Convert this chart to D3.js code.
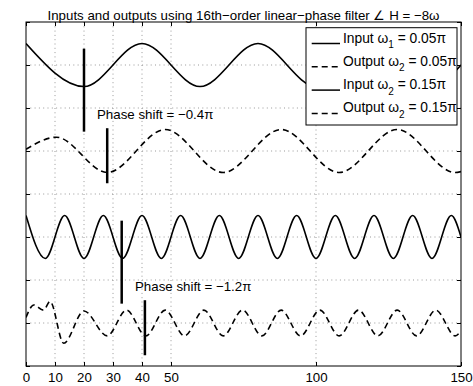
<!DOCTYPE html>
<html>
<head>
<meta charset="utf-8">
<script src="https://cdn.jsdelivr.net/npm/d3@7"></script>
<style>
  body { margin: 0; background: #fff; }
  svg text { font-family: "Liberation Sans", Arial, Helvetica, sans-serif; fill: #000; }
</style>
</head>
<body>
<div id="chart"></div>
<script>
// tick values of the axes (y axis has no labels)
var xTickValues = [0, 10, 20, 30, 40, 50, 100, 150];
var yTickValues = [0, 1, 2, 3, 4, 5, 6, 7, 8];

// vertical offset of each of the four traces
var traceOffsets = [7, 5, 3, 1];

// input w1 = 0.05pi : sample index and value at peaks / troughs
var inLowN = [0, 20, 40, 60, 80, 100, 120, 140, 150];
var inLowV = [0.5, -0.5, 0.5, -0.5, 0.5, -0.5, 0.5, -0.5, 0];

// output w = 0.05pi (start-up transient, then delayed by 8 samples)
var outLowN = [0, 10.5, 28, 48, 68, 88, 108, 128, 148, 150];
var outLowV = [0.04, 0.32, -0.5, 0.5, -0.5, 0.5, -0.5, 0.5, -0.5, -0.48];

// input w2 = 0.15pi
var inHighN = [0, 6.67, 13.33, 20, 26.67, 33.33, 40, 46.67, 53.33, 60, 66.67, 73.33,
               80, 86.67, 93.33, 100, 106.67, 113.33, 120, 126.67, 133.33, 140, 146.67, 150];
var inHighV = [0.5, -0.5, 0.5, -0.5, 0.5, -0.5, 0.5, -0.5, 0.5, -0.5, 0.5, -0.5,
               0.5, -0.5, 0.5, -0.5, 0.5, -0.5, 0.5, -0.5, 0.5, -0.5, 0.5, 0];

// output w2 = 0.15pi
var outHighN = [0, 2.7, 6, 8.3, 13, 20, 28, 34.67, 41.33, 48, 54.67, 61.33, 68, 74.67,
                81.33, 88, 94.67, 101.33, 108, 114.67, 121.33, 128, 134.67, 141.33, 148, 150];
var outHighV = [0.13, 0.42, 0.3, 0.5, -0.47, 0.28, -0.3, 0.3, -0.3, 0.3, -0.3, 0.3, -0.3, 0.3,
                -0.3, 0.3, -0.3, 0.3, -0.3, 0.3, -0.3, 0.3, -0.3, 0.3, -0.3, -0.18];

// phase markers: sample index, top and bottom value
var markerN = [20, 28, 33, 41];
var markerTop = [7.38, 5.53, 3.38, 1.53];
var markerBottom = [5.45, 4.25, 1.45, 0.25];

// legend entries
var legendNames = ["Input \u03c9", "Output \u03c9", "Input \u03c9", "Output \u03c9"];
var legendSubs = ["1", "2", "2", "2"];
var legendFreqs = [" = 0.05\u03c0", " = 0.05\u03c0", " = 0.15\u03c0", " = 0.15\u03c0"];

var titleText = "Inputs and outputs using 16th\u2212order linear\u2212phase filter \u2220 H = \u22128\u03c9";
var shiftLabels = ["Phase shift = \u22120.4\u03c0", "Phase shift = \u22121.2\u03c0"];

// set the dimensions and margins of the graph
var margin = {top: 22, right: 12, bottom: 20, left: 26},
    width = 473 - margin.left - margin.right,
    height = 386 - margin.top - margin.bottom;

var svg = d3.select("#chart")
  .append("svg")
    .attr("width", width + margin.left + margin.right)
    .attr("height", height + margin.top + margin.bottom)
  .append("g")
    .attr("transform", "translate(" + margin.left + "," + margin.top + ")");

var x = d3.scaleLinear().domain([0, 150]).range([0, width]);
var y = d3.scaleLinear().domain([0, 8]).range([height, 0]);

// dotted grid
svg.append("g").selectAll("line")
    .data(xTickValues.filter(function(d) { return d > 0 && d < 150; }))
    .enter().append("line")
      .attr("x1", function(d) { return x(d); })
      .attr("x2", function(d) { return x(d); })
      .attr("y1", 0).attr("y2", height)
      .attr("stroke", "#999").attr("stroke-dasharray", "1,3.3");
svg.append("g").selectAll("line")
    .data(yTickValues.filter(function(d) { return d > 0 && d < 8; }))
    .enter().append("line")
      .attr("y1", function(d) { return y(d); })
      .attr("y2", function(d) { return y(d); })
      .attr("x1", 0).attr("x2", width)
      .attr("stroke", "#999").attr("stroke-dasharray", "1,3.3");

// axes with inward ticks
var xAxis = svg.append("g")
    .attr("transform", "translate(0," + height + ")")
    .call(d3.axisBottom(x).tickValues(xTickValues).tickSize(-4).tickPadding(6.5).tickFormat(d3.format("d")));
svg.append("g").call(d3.axisTop(x).tickValues(xTickValues).tickSize(-4).tickFormat(""));
svg.append("g").call(d3.axisLeft(y).tickValues(yTickValues).tickSize(-4).tickFormat(""));
svg.append("g").attr("transform", "translate(" + width + ",0)")
    .call(d3.axisRight(y).tickValues(yTickValues).tickSize(-4).tickFormat(""));
svg.selectAll(".domain").remove();
svg.selectAll(".tick line").attr("stroke", "#000");
xAxis.selectAll("text").style("font-size", "13.3px").attr("fill", "#000");

// traces
var line = d3.line()
    .x(function(d) { return x(d[0]); })
    .y(function(d) { return y(d[1]); })
    .curve(d3.curveMonotoneX);

var traces = [
  {n: inLowN, v: inLowV, dash: null},
  {n: outLowN, v: outLowV, dash: "6,4"},
  {n: inHighN, v: inHighV, dash: null},
  {n: outHighN, v: outHighV, dash: "6,4"}
];

svg.append("clipPath").attr("id", "plotArea")
  .append("rect").attr("width", width).attr("height", height);

svg.append("g").attr("clip-path", "url(#plotArea)")
  .selectAll("path")
  .data(traces)
  .enter().append("path")
    .attr("d", function(t, i) {
      return line(t.n.map(function(n, k) { return [n, t.v[k] + traceOffsets[i]]; }));
    })
    .attr("fill", "none")
    .attr("stroke", "#000")
    .attr("stroke-width", 1.6)
    .attr("stroke-dasharray", function(t) { return t.dash; });

// phase markers
svg.append("g").selectAll("line")
    .data(markerN)
    .enter().append("line")
      .attr("x1", function(d) { return x(d); })
      .attr("x2", function(d) { return x(d); })
      .attr("y1", function(d, i) { return y(markerTop[i]); })
      .attr("y2", function(d, i) { return y(markerBottom[i]); })
      .attr("stroke", "#000")
      .attr("stroke-width", 2.5);

// annotations
svg.append("text").attr("x", 71).attr("y", 97)
    .style("font-size", "13.3px").text(shiftLabels[0]);
svg.append("text").attr("x", 109).attr("y", 268.5)
    .style("font-size", "13.3px").text(shiftLabels[1]);

// frame
svg.append("rect")
    .attr("width", width).attr("height", height)
    .attr("fill", "none").attr("stroke", "#000");

// title
svg.append("text")
    .attr("x", width / 2).attr("y", -2.5)
    .attr("text-anchor", "middle")
    .style("font-size", "13.3px")
    .text(titleText);

// legend
var legend = svg.append("g").attr("transform", "translate(280,5.7)");
legend.append("rect")
    .attr("width", 151).attr("height", 97.3)
    .attr("fill", "#fff").attr("stroke", "#000");

var rows = legend.selectAll("g.row")
    .data(legendNames)
    .enter().append("g")
      .attr("class", "row")
      .attr("transform", function(d, i) { return "translate(0," + (15.8 + i * 23.3) + ")"; });

rows.append("line")
    .attr("x1", 5.7).attr("x2", 34)
    .attr("stroke", "#000").attr("stroke-width", 1.5)
    .attr("stroke-dasharray", function(d, i) { return traces[i].dash; });

var label = rows.append("text")
    .attr("x", 37).attr("y", -1)
    .style("font-size", "13.8px");
label.append("tspan").text(function(d) { return d; });
label.append("tspan")
    .attr("dy", 5.5).style("font-size", "10px")
    .text(function(d, i) { return legendSubs[i]; });
label.append("tspan")
    .attr("dy", -5.5)
    .text(function(d, i) { return legendFreqs[i]; });
</script>
</body>
</html>
